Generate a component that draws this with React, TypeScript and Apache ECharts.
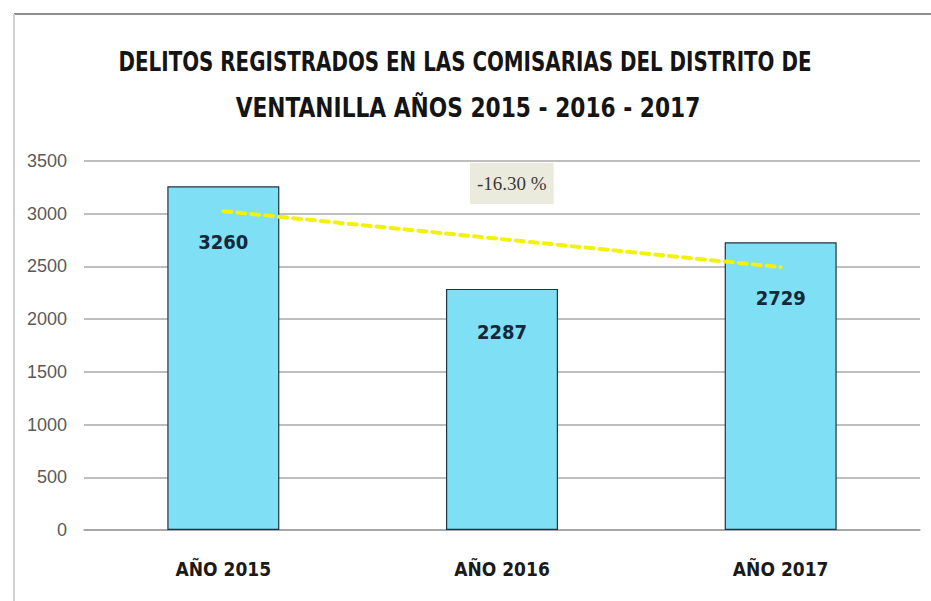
import React, { useEffect, useRef } from "react";
import * as echarts from "echarts";

const categories = ["AÑO 2015", "AÑO 2016", "AÑO 2017"];
const delitos = [3260, 2287, 2729];
const trendValues = [3024, 2759, 2493];
const yTicks = [0, 500, 1000, 1500, 2000, 2500, 3000, 3500];
const titleLines = [
  "DELITOS REGISTRADOS EN LAS COMISARIAS DEL DISTRITO DE",
  "VENTANILLA AÑOS 2015 - 2016 - 2017",
];
const changeLabel = "-16.30 %";

const COND = "'DejaVu Sans Condensed', Lato, sans-serif";

export default function App() {
  const ref = useRef<HTMLDivElement>(null);
  useEffect(() => {
    if (!ref.current) return;
    const chart = echarts.init(ref.current, null, { renderer: "svg" });
    const labelDist = [46, 33, 46];
    const titleY = [62, 108];
    const titleX = [465, 468];
    const titleScale = [0.85, 0.93];
    chart.setOption({
      animation: false,
      backgroundColor: "#ffffff",
      grid: { left: 84, right: 11, top: 161, bottom: 71 },
      xAxis: {
        type: "category",
        data: categories,
        axisLine: { show: true, lineStyle: { color: "#a0a0a0", width: 1.5 } },
        axisTick: { show: false },
        axisLabel: {
          margin: 29,
          fontFamily: COND,
          fontWeight: "bold",
          fontSize: 19,
          color: "#1a1a1a",
        },
      },
      yAxis: {
        type: "value",
        min: yTicks[0],
        max: yTicks[yTicks.length - 1],
        interval: yTicks[1] - yTicks[0],
        axisLine: { show: false },
        axisTick: { show: false },
        splitLine: { lineStyle: { color: "#a8a8a8", width: 1.5 } },
        axisLabel: {
          margin: 17,
          fontFamily: "'Liberation Sans', sans-serif",
          fontSize: 18,
          color: "#5a5a5a",
          formatter: (v: number) => String(v),
        },
      },
      series: [
        {
          type: "bar",
          barWidth: 112,
          data: delitos.map((v, i) => ({
            value: v,
            label: { distance: labelDist[i] },
          })),
          itemStyle: {
            color: "#7fdff5",
            borderColor: "#1e3344",
            borderWidth: 1.2,
          },
          label: {
            show: true,
            position: "insideTop",
            fontFamily: COND,
            fontWeight: "bold",
            fontSize: 20,
            color: "#14283a",
          },
          z: 2,
        },
        {
          type: "line",
          data: trendValues,
          symbol: "none",
          lineStyle: {
            color: "#f2f20a",
            width: 4,
            type: [8, 6],
            cap: "round",
          },
          z: 3,
          silent: true,
        },
      ],
      graphic: [
        {
          type: "line",
          shape: { x1: 14, y1: 14, x2: 931, y2: 14 },
          style: { stroke: "#8c8c8c", lineWidth: 2 },
        },
        {
          type: "line",
          shape: { x1: 14, y1: 14, x2: 14, y2: 601 },
          style: { stroke: "#d0d0d0", lineWidth: 2 },
        },
        ...titleLines.map((t, i) => ({
          type: "text",
          x: titleX[i],
          y: titleY[i],
          scaleX: titleScale[i],
          style: {
            text: t,
            x: 0,
            y: 0,
            align: "center",
            verticalAlign: "middle",
            fontFamily: COND,
            fontWeight: "bold",
            fontSize: 26,
            fill: "#141414",
          },
        })),
        {
          type: "text",
          left: 470,
          top: 163,
          style: {
            text: changeLabel,
            fontFamily: "'Liberation Serif', serif",
            fontSize: 19,
            fill: "#3a3a3a",
            backgroundColor: "#ebebdd",
            padding: [11, 7, 11, 7],
          },
          z: 10,
        },
      ],
    });
    return () => chart.dispose();
  }, []);
  return <div ref={ref} style={{ width: 931, height: 601, position: "absolute", left: 0, top: 0 }} />;
}
